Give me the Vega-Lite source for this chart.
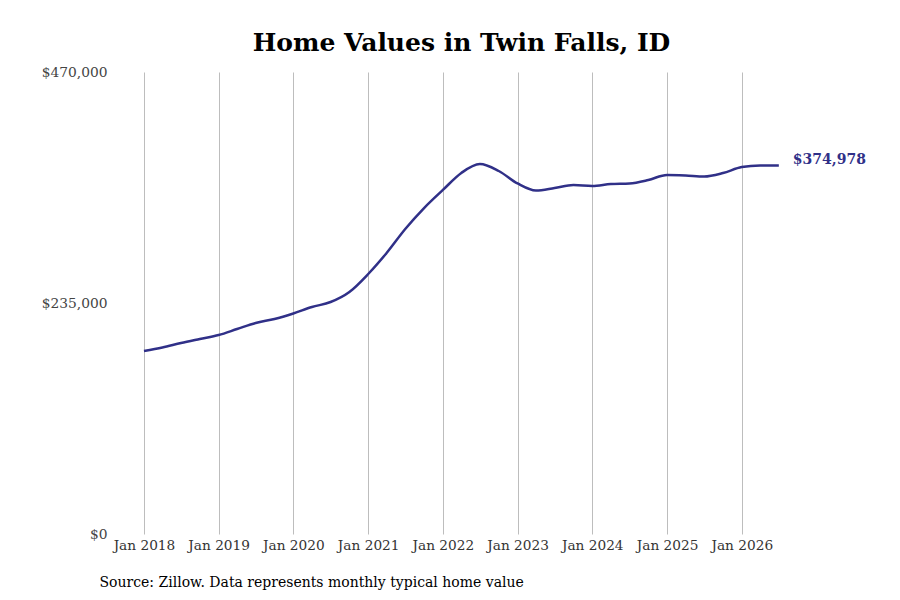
{
  "$schema": "https://vega.github.io/schema/vega-lite/v6.json",
  "autosize": {"type": "none"},
  "padding": {"left": 119, "top": 72, "right": 96, "bottom": 66},
  "width": 685,
  "height": 462,
  "background": "white",
  "title": {
    "text": "Home Values in Twin Falls, ID",
    "font": "DejaVu Serif",
    "fontSize": 25,
    "fontWeight": "bold",
    "color": "black",
    "anchor": "middle",
    "offset": 9
  },
  "data": {
    "values": [
      {"date": "2018-01-01", "value": 186200},
      {"date": "2018-04-01", "value": 189700},
      {"date": "2018-07-01", "value": 194300},
      {"date": "2018-10-01", "value": 198400},
      {"date": "2019-01-01", "value": 202400},
      {"date": "2019-04-01", "value": 208500},
      {"date": "2019-07-01", "value": 214700},
      {"date": "2019-10-01", "value": 218700},
      {"date": "2020-01-01", "value": 224300},
      {"date": "2020-04-01", "value": 230900},
      {"date": "2020-07-01", "value": 236000},
      {"date": "2020-10-01", "value": 246200},
      {"date": "2021-01-01", "value": 264500},
      {"date": "2021-04-01", "value": 285900},
      {"date": "2021-07-01", "value": 310300},
      {"date": "2021-10-01", "value": 331600},
      {"date": "2022-01-01", "value": 350000},
      {"date": "2022-04-01", "value": 367300},
      {"date": "2022-07-01", "value": 376400},
      {"date": "2022-10-01", "value": 369300},
      {"date": "2023-01-01", "value": 356600},
      {"date": "2023-04-01", "value": 349400},
      {"date": "2023-07-01", "value": 352000},
      {"date": "2023-10-01", "value": 355000},
      {"date": "2024-01-01", "value": 354000},
      {"date": "2024-04-01", "value": 356000},
      {"date": "2024-07-01", "value": 356600},
      {"date": "2024-10-01", "value": 360100},
      {"date": "2025-01-01", "value": 365200},
      {"date": "2025-04-01", "value": 364700},
      {"date": "2025-07-01", "value": 363700},
      {"date": "2025-10-01", "value": 367200},
      {"date": "2026-01-01", "value": 373300},
      {"date": "2026-04-01", "value": 374900},
      {"date": "2026-07-01", "value": 374978}
    ]
  },
  "encoding": {
    "x": {
      "field": "date",
      "type": "temporal",
      "scale": {"domain": ["2017-09-01", "2026-11-01"]},
      "axis": {
        "format": "%b %Y",
        "tickCount": {"interval": "year", "step": 1},
        "grid": true,
        "gridColor": "#bdbdbd",
        "gridWidth": 1,
        "domain": false,
        "ticks": false,
        "labelFont": "DejaVu Serif",
        "labelFontSize": 13.7,
        "labelColor": "#333333",
        "labelPadding": 4,
        "title": "Source: Zillow. Data represents monthly typical home value",
        "titleFont": "DejaVu Serif",
        "titleFontSize": 14,
        "titleFontWeight": "normal",
        "titleColor": "black",
        "titleAnchor": "start",
        "titleAlign": "left",
        "titleX": -20,
        "titlePadding": 24
      }
    },
    "y": {
      "field": "value",
      "type": "quantitative",
      "scale": {"domain": [0, 470000]},
      "axis": {
        "values": [0, 235000, 470000],
        "format": "$,.0f",
        "grid": false,
        "domain": false,
        "ticks": false,
        "labelFont": "DejaVu Serif",
        "labelFontSize": 13.8,
        "labelColor": "#444444",
        "labelPadding": 12,
        "title": null
      }
    }
  },
  "layer": [
    {
      "mark": {"type": "line", "color": "#303088", "strokeWidth": 2.5, "interpolate": "monotone"}
    },
    {
      "transform": [{"filter": "datum.value == 374978"}],
      "mark": {
        "type": "text",
        "align": "left",
        "baseline": "middle",
        "dx": 14,
        "dy": -5,
        "font": "DejaVu Serif",
        "fontSize": 14,
        "fontWeight": "bold",
        "color": "#303088"
      },
      "encoding": {"text": {"field": "value", "type": "quantitative", "format": "$,.0f"}}
    }
  ],
  "config": {"view": {"stroke": null}}
}
